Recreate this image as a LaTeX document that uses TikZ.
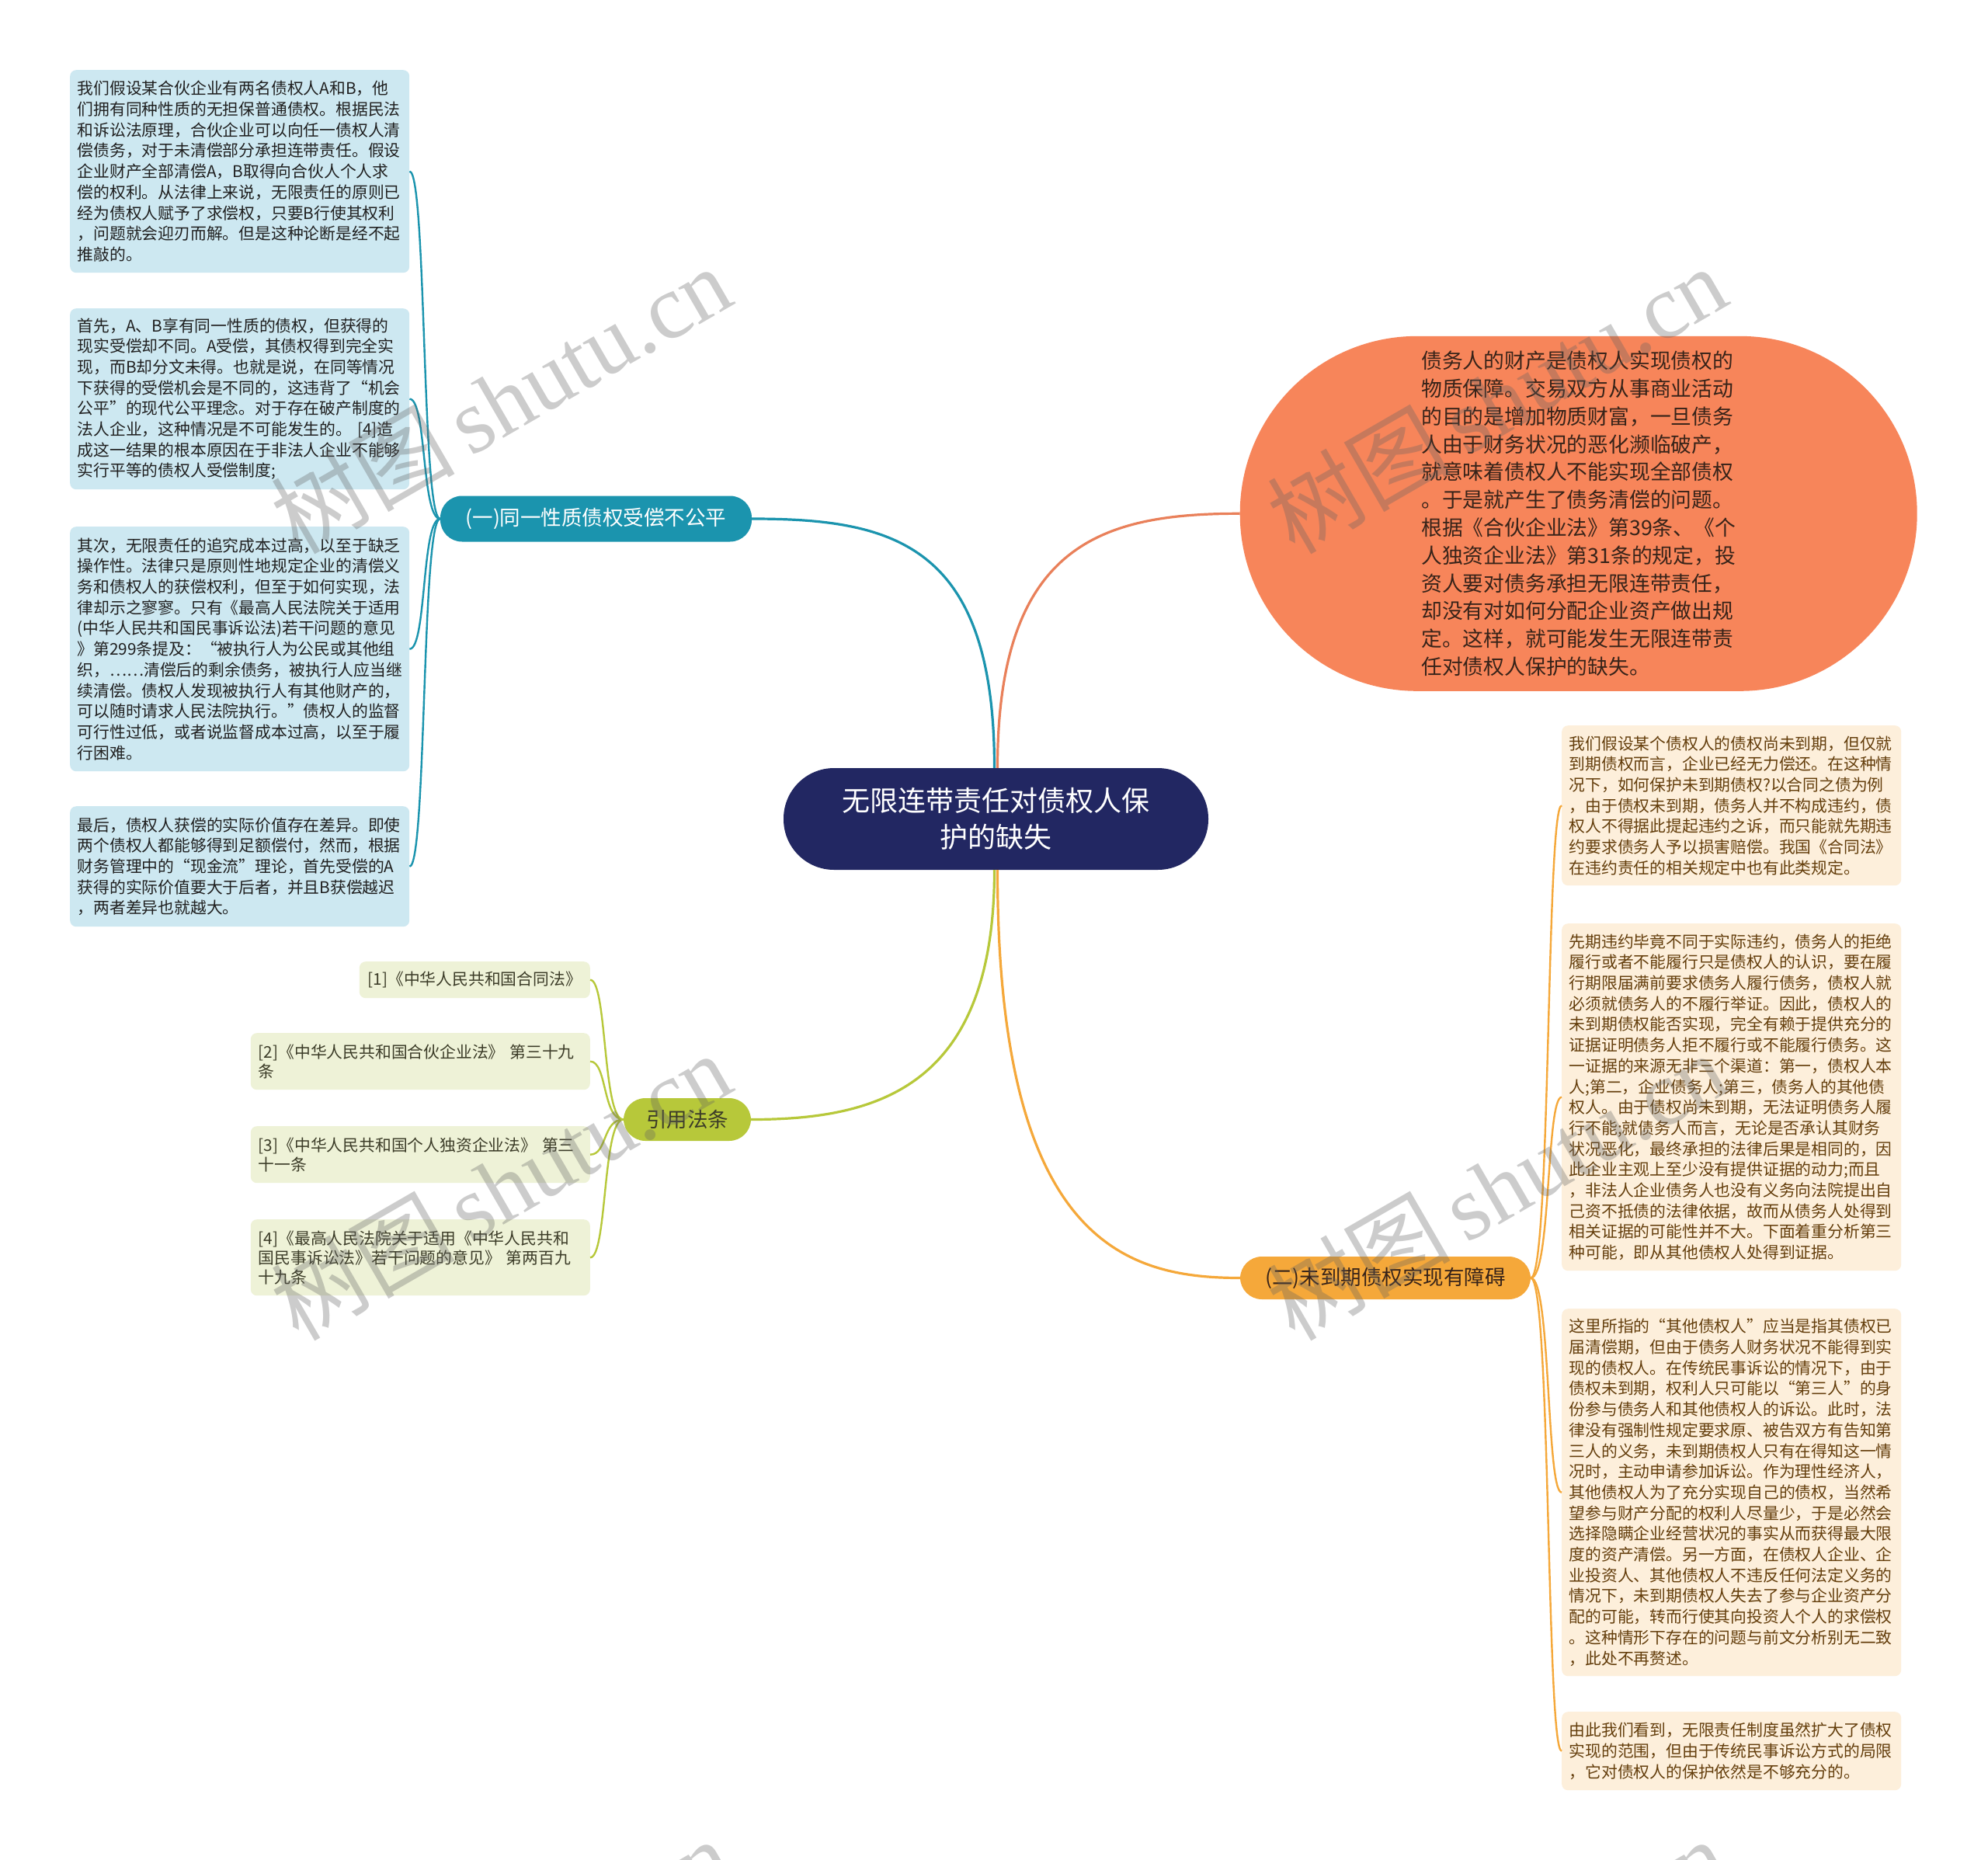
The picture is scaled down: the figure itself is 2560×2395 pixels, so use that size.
\documentclass[tikz,border=0pt]{standalone}
\usepackage{fontspec}
\setmainfont{Noto Sans CJK SC}
\newfontfamily\wmlatin{Liberation Serif}
\newfontfamily\wmcjk{Noto Sans CJK SC}
\definecolor{cnavy}{RGB}{34,39,98}
\definecolor{cteal}{RGB}{27,148,174}
\definecolor{corange}{RGB}{247,133,90}
\definecolor{corangeline}{RGB}{233,128,90}
\definecolor{cygreen}{RGB}{183,200,58}
\definecolor{cyellow}{RGB}{245,168,58}
\definecolor{cblue}{RGB}{205,232,241}
\definecolor{cpeach}{RGB}{253,239,219}
\definecolor{ccite}{RGB}{238,242,215}
\definecolor{tbrown}{RGB}{100,62,12}
\definecolor{tdark}{RGB}{32,32,32}
\definecolor{tcite}{RGB}{60,60,40}
\definecolor{ttopic}{RGB}{55,35,25}
\tikzset{
  leafL/.style={fill=cblue, rounded corners=8pt, text width=418pt, inner xsep=9.5pt, inner ysep=12pt, align=left, anchor=north west, minimum width=437pt, font=\fontsize{20.8}{26.7}\selectfont, text=tdark},
  leafR/.style={leafL, fill=cpeach, text=tbrown},
  citebox/.style={fill=ccite, rounded corners=8pt, inner xsep=10pt, inner ysep=11pt, align=left, anchor=north east, font=\fontsize{20.8}{25}\selectfont, text=tcite},
  branchbox/.style={rectangle, rounded corners=28pt, minimum height=57pt, inner sep=0pt, font=\fontsize{26.5}{30}\selectfont},
  mainline/.style={line width=3.2pt},
  leafline/.style={line width=2.4pt},
  wmark/.style={rotate=30, text=black!62, opacity=0.32, inner sep=0pt}
}
\begin{document}
\begin{tikzpicture}[x=1pt,y=-1pt]
\path[use as bounding box, fill=white] (0,0) rectangle (2560,2395);

% central node
\node[rectangle, rounded corners=65pt, fill=cnavy, minimum width=547pt, minimum height=131pt, text=white, align=center, font=\fontsize{36}{47}\selectfont] (center) at (1282.5,1054.5) {无限连带责任对债权人保\\护的缺失};

% big orange node
\node[rectangle, rounded corners=228pt, fill=corange, minimum width=872pt, minimum height=457pt, text=ttopic, align=left, font=\fontsize{26.8}{35.8}\selectfont] (topic) at (2032.7,661.3) {债务人的财产是债权人实现债权的\\物质保障。交易双方从事商业活动\\的目的是增加物质财富，一旦债务\\人由于财务状况的恶化濒临破产，\\就意味着债权人不能实现全部债权\\。于是就产生了债务清偿的问题。\\根据《合伙企业法》第39条、《个\\人独资企业法》第31条的规定，投\\资人要对债务承担无限连带责任，\\却没有对如何分配企业资产做出规\\定。这样，就可能发生无限连带责\\任对债权人保护的缺失。};

% branch nodes
\node[branchbox, fill=cteal, text=white, minimum width=401pt, minimum height=59pt] (b1) at (767.5,668) {(一)同一性质债权受偿不公平};
\node[branchbox, fill=cygreen, text=tcite, minimum width=164pt, minimum height=55pt] (b2) at (885,1441.5) {引用法条};
\node[branchbox, fill=cyellow, text=ttopic, minimum width=374pt, minimum height=55pt] (b3) at (1784,1645.5) {(二)未到期债权实现有障碍};

% left leaves
\node[leafL, minimum height=261pt] (L1) at (90,90) {我们假设某合伙企业有两名债权人A和B，他\\们拥有同种性质的无担保普通债权。根据民法\\和诉讼法原理，合伙企业可以向任一债权人清\\偿债务，对于未清偿部分承担连带责任。假设\\企业财产全部清偿A，B取得向合伙人个人求\\偿的权利。从法律上来说，无限责任的原则已\\经为债权人赋予了求偿权，只要B行使其权利\\，问题就会迎刃而解。但是这种论断是经不起\\推敲的。};
\node[leafL, minimum height=233pt] (L2) at (90,397) {首先，A、B享有同一性质的债权，但获得的\\现实受偿却不同。A受偿，其债权得到完全实\\现，而B却分文未得。也就是说，在同等情况\\下获得的受偿机会是不同的，这违背了“机会\\公平”的现代公平理念。对于存在破产制度的\\法人企业，这种情况是不可能发生的。 [4]造\\成这一结果的根本原因在于非法人企业不能够\\实行平等的债权人受偿制度;};
\node[leafL, minimum height=315pt] (L3) at (90,678) {其次，无限责任的追究成本过高，以至于缺乏\\操作性。法律只是原则性地规定企业的清偿义\\务和债权人的获偿权利，但至于如何实现，法\\律却示之寥寥。只有《最高人民法院关于适用\\(中华人民共和国民事诉讼法)若干问题的意见\\》第299条提及：“被执行人为公民或其他组\\织，……清偿后的剩余债务，被执行人应当继\\续清偿。债权人发现被执行人有其他财产的，\\可以随时请求人民法院执行。”债权人的监督\\可行性过低，或者说监督成本过高，以至于履\\行困难。};
\node[leafL, minimum height=155pt] (L4) at (90,1038) {最后，债权人获偿的实际价值存在差异。即使\\两个债权人都能够得到足额偿付，然而，根据\\财务管理中的“现金流”理论，首先受偿的A\\获得的实际价值要大于后者，并且B获偿越迟\\，两者差异也就越大。};

% right leaves
\node[leafR, minimum height=206pt] (R1) at (2011,934) {我们假设某个债权人的债权尚未到期，但仅就\\到期债权而言，企业已经无力偿还。在这种情\\况下，如何保护未到期债权?以合同之债为例\\，由于债权未到期，债务人并不构成违约，债\\权人不得据此提起违约之诉，而只能就先期违\\约要求债务人予以损害赔偿。我国《合同法》\\在违约责任的相关规定中也有此类规定。};
\node[leafR, minimum height=447pt] (R2) at (2011,1189) {先期违约毕竟不同于实际违约，债务人的拒绝\\履行或者不能履行只是债权人的认识，要在履\\行期限届满前要求债务人履行债务，债权人就\\必须就债务人的不履行举证。因此，债权人的\\未到期债权能否实现，完全有赖于提供充分的\\证据证明债务人拒不履行或不能履行债务。这\\一证据的来源无非三个渠道：第一，债权人本\\人;第二，企业债务人;第三，债务人的其他债\\权人。由于债权尚未到期，无法证明债务人履\\行不能;就债务人而言，无论是否承认其财务\\状况恶化，最终承担的法律后果是相同的，因\\此企业主观上至少没有提供证据的动力;而且\\，非法人企业债务人也没有义务向法院提出自\\己资不抵债的法律依据，故而从债务人处得到\\相关证据的可能性并不大。下面着重分析第三\\种可能，即从其他债权人处得到证据。};
\node[leafR, minimum height=473pt] (R3) at (2011,1685) {这里所指的“其他债权人”应当是指其债权已\\届清偿期，但由于债务人财务状况不能得到实\\现的债权人。在传统民事诉讼的情况下，由于\\债权未到期，权利人只可能以“第三人”的身\\份参与债务人和其他债权人的诉讼。此时，法\\律没有强制性规定要求原、被告双方有告知第\\三人的义务，未到期债权人只有在得知这一情\\况时，主动申请参加诉讼。作为理性经济人，\\其他债权人为了充分实现自己的债权，当然希\\望参与财产分配的权利人尽量少，于是必然会\\选择隐瞒企业经营状况的事实从而获得最大限\\度的资产清偿。另一方面，在债权人企业、企\\业投资人、其他债权人不违反任何法定义务的\\情况下，未到期债权人失去了参与企业资产分\\配的可能，转而行使其向投资人个人的求偿权\\。这种情形下存在的问题与前文分析别无二致\\，此处不再赘述。};
\node[leafR, minimum height=101pt] (R4) at (2011,2204) {由此我们看到，无限责任制度虽然扩大了债权\\实现的范围，但由于传统民事诉讼方式的局限\\，它对债权人的保护依然是不够充分的。};

% citations
\node[citebox, minimum width=297pt, minimum height=47pt] (C1) at (760,1238) {[1]《中华人民共和国合同法》};
\node[citebox, text width=417pt, minimum height=73pt] (C2) at (760,1330) {[2]《中华人民共和国合伙企业法》 第三十九\\条};
\node[citebox, text width=417pt, minimum height=73pt] (C3) at (760,1450) {[3]《中华人民共和国个人独资企业法》 第三\\十一条};
\node[citebox, text width=417pt, minimum height=98pt] (C4) at (760,1570) {[4]《最高人民法院关于适用《中华人民共和\\国民事诉讼法》若干问题的意见》 第两百九\\十九条};

% main connectors
\draw[mainline, cteal] ([xshift=-2pt]center.north) .. controls +(0,-289) and +(182,0) .. (b1.east);
\draw[mainline, corangeline] ([xshift=2pt]center.north) .. controls +(0,-289) and +(-177,0) .. (topic.west);
\draw[mainline, cygreen] ([xshift=-2pt]center.south) .. controls +(0,280) and +(163,0) .. (b2.east);
\draw[mainline, cyellow] ([xshift=2pt]center.south) .. controls +(0,480) and +(-147,0) .. (b3.west);

% leaf connectors
\foreach \n in {L1,L2,L3,L4}
  \draw[leafline, cteal] (b1.west) .. controls +(-24,0) and +(22,0) .. (\n.east);
\foreach \n in {C1,C2,C3,C4}
  \draw[leafline, cygreen] (b2.west) .. controls +(-27,0) and +(22,0) .. (\n.east);
\foreach \n in {R1,R2,R3,R4}
  \draw[leafline, cyellow] (b3.east) .. controls +(26,0) and +(-20,0) .. (\n.west);

% watermarks
\begin{scope}
\clip (0,0) rectangle (2560,2395);
\node[wmark] (wm1) at (645,514) {\fontsize{118}{118}\selectfont\wmcjk 树图\,\wmlatin shutu.cn};
\node[wmark] (wm2) at (1927,514) {\fontsize{118}{118}\selectfont\wmcjk 树图\,\wmlatin shutu.cn};
\node[wmark] (wm3) at (645,1527) {\fontsize{118}{118}\selectfont\wmcjk 树图\,\wmlatin shutu.cn};
\node[wmark] (wm4) at (1927,1527) {\fontsize{118}{118}\selectfont\wmcjk 树图\,\wmlatin shutu.cn};
\node[wmark] (wm5) at (645,2539) {\fontsize{118}{118}\selectfont\wmcjk 树图\,\wmlatin shutu.cn};
\node[wmark] (wm6) at (1927,2539) {\fontsize{118}{118}\selectfont\wmcjk 树图\,\wmlatin shutu.cn};
\end{scope}
\end{tikzpicture}
\end{document}
